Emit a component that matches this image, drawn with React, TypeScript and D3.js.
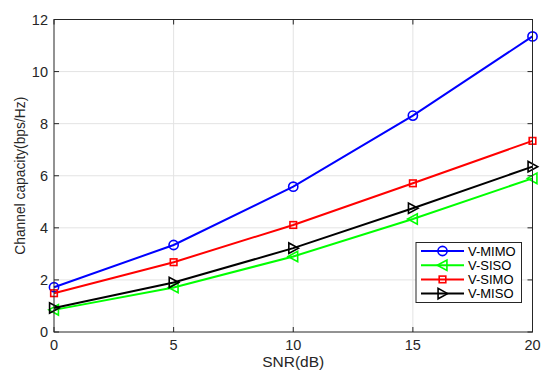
import { scaleLinear, line } from 'd3'

const snr = [0, 5, 10, 15, 20]
const vMimo = [1.72, 3.34, 5.58, 8.31, 11.35]
const vSiso = [0.85, 1.71, 2.9, 4.34, 5.9]
const vSimo = [1.49, 2.68, 4.11, 5.71, 7.34]
const vMiso = [0.92, 1.9, 3.22, 4.75, 6.35]

const xTicks = [0, 5, 10, 15, 20]
const yTicks = [0, 2, 4, 6, 8, 10, 12]

type Marker = 'circle' | 'left' | 'square' | 'right'

const series: { name: string; color: string; values: number[]; marker: Marker }[] = [
  { name: 'V-MIMO', color: '#0000ff', values: vMimo, marker: 'circle' },
  { name: 'V-SISO', color: '#00ff00', values: vSiso, marker: 'left' },
  { name: 'V-SIMO', color: '#ff0000', values: vSimo, marker: 'square' },
  { name: 'V-MISO', color: '#000000', values: vMiso, marker: 'right' },
]

const WIDTH = 550
const HEIGHT = 377
const MARGIN = { top: 19.5, right: 17.5, bottom: 45, left: 54 }
const AXIS = '#262626'
const FONT = 'Liberation Sans, Arial, sans-serif'

function MarkerShape({ type, x, y, color }: { type: Marker; x: number; y: number; color: string }) {
  const common = { fill: 'none', stroke: color, strokeWidth: 1.6 }
  if (type === 'circle') return <circle cx={x} cy={y} r={4.6} {...common} />
  if (type === 'square') return <rect x={x - 3.3} y={y - 3.3} width={6.6} height={6.6} {...common} />
  const s = 5.2
  const pts =
    type === 'left'
      ? `${x - s},${y} ${x + s * 0.85},${y - s} ${x + s * 0.85},${y + s}`
      : `${x + s},${y} ${x - s * 0.85},${y - s} ${x - s * 0.85},${y + s}`
  return <polygon points={pts} {...common} />
}

export default function App() {
  const x = scaleLinear().domain([0, 20]).range([MARGIN.left, WIDTH - MARGIN.right])
  const y = scaleLinear().domain([0, 12]).range([HEIGHT - MARGIN.bottom, MARGIN.top])
  const path = line<number>()
    .x((_, i) => x(snr[i]))
    .y((d) => y(d))

  const x0 = x(0)
  const x1 = x(20)
  const y0 = y(0)
  const y1 = y(12)
  const tick = 5

  const legend = { x: 416, y: 242.5, w: 105.5, h: 60 }

  return (
    <svg
      width={WIDTH}
      height={HEIGHT}
      style={{ position: 'absolute', left: 0, top: 0, background: '#fff' }}
      fontFamily={FONT}
    >
      {/* grid */}
      {xTicks.slice(1, -1).map((t) => (
        <line key={'gx' + t} x1={x(t)} x2={x(t)} y1={y0} y2={y1} stroke="#e3e3e3" strokeWidth={1} />
      ))}
      {yTicks.slice(1, -1).map((t) => (
        <line key={'gy' + t} x1={x0} x2={x1} y1={y(t)} y2={y(t)} stroke="#e3e3e3" strokeWidth={1} />
      ))}

      {/* series */}
      {series.map((s) => (
        <g key={s.name}>
          <path d={path(s.values) ?? undefined} fill="none" stroke={s.color} strokeWidth={2} />
          {s.values.map((v, i) => (
            <MarkerShape key={i} type={s.marker} x={x(snr[i])} y={y(v)} color={s.color} />
          ))}
        </g>
      ))}

      {/* box + ticks */}
      <rect x={x0} y={y1} width={x1 - x0} height={y0 - y1} fill="none" stroke={AXIS} strokeWidth={1} />
      {xTicks.map((t) => (
        <g key={'tx' + t}>
          <line x1={x(t)} x2={x(t)} y1={y0} y2={y0 - tick} stroke={AXIS} />
          <line x1={x(t)} x2={x(t)} y1={y1} y2={y1 + tick} stroke={AXIS} />
          <text x={x(t)} y={y0 + 18} textAnchor="middle" fontSize={14.5} fill={AXIS}>
            {t}
          </text>
        </g>
      ))}
      {yTicks.map((t) => (
        <g key={'ty' + t}>
          <line x1={x0} x2={x0 + tick} y1={y(t)} y2={y(t)} stroke={AXIS} />
          <line x1={x1} x2={x1 - tick} y1={y(t)} y2={y(t)} stroke={AXIS} />
          <text x={x0 - 6} y={y(t)} dy="0.35em" textAnchor="end" fontSize={14.5} fill={AXIS}>
            {t}
          </text>
        </g>
      ))}

      {/* axis labels */}
      <text x={(x0 + x1) / 2} y={y0 + 35} textAnchor="middle" fontSize={15.5} fill={AXIS}>
        SNR(dB)
      </text>
      <text
        transform={`translate(20, ${(y0 + y1) / 2}) rotate(-90)`}
        textAnchor="middle"
        dy="0.35em"
        fontSize={13.8}
        fill={AXIS}
      >
        Channel capacity(bps/Hz)
      </text>

      {/* legend */}
      <rect x={legend.x} y={legend.y} width={legend.w} height={legend.h} fill="#fff" stroke={AXIS} strokeWidth={1} />
      {series.map((s, i) => {
        const ly = legend.y + 8.5 + i * 14.2
        return (
          <g key={'lg' + s.name}>
            <line x1={legend.x + 5} x2={legend.x + 48} y1={ly} y2={ly} stroke={s.color} strokeWidth={2} />
            <MarkerShape type={s.marker} x={legend.x + 26.5} y={ly} color={s.color} />
            <text x={legend.x + 52} y={ly} dy="0.35em" fontSize={13} fill="#000">
              {s.name}
            </text>
          </g>
        )
      })}
    </svg>
  )
}
